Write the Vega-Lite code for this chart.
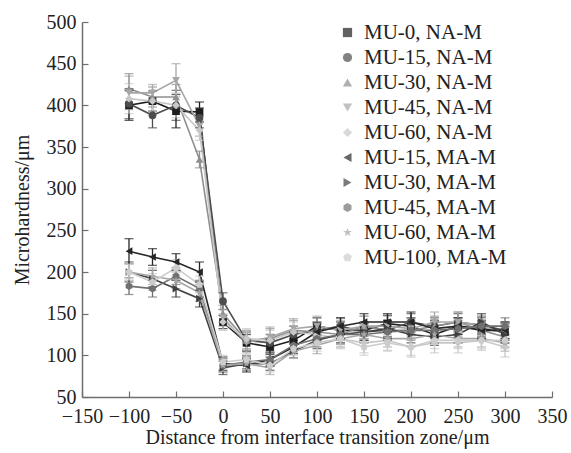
{
  "$schema": "https://vega.github.io/schema/vega-lite/v6.json",
  "width": 470,
  "height": 375,
  "autosize": {"type": "none"},
  "padding": {"left": 82, "top": 22, "right": 19, "bottom": 56},
  "background": "white",
  "config": {
    "view": {"stroke": null},
    "font": "Liberation Serif",
    "axis": {
      "grid": false,
      "domainColor": "#6e6e6e",
      "domainWidth": 1.5,
      "tickColor": "#6e6e6e",
      "tickWidth": 1.2,
      "tickSize": -6,
      "labelFont": "Liberation Serif",
      "labelFontSize": 20,
      "labelColor": "#222222",
      "labelOverlap": false,
      "labelBound": false,
      "labelFlush": false,
      "titleFont": "Liberation Serif",
      "titleFontSize": 20,
      "titleFontWeight": "normal",
      "titleColor": "#222222"
    },
    "legend": {
      "labelFont": "Liberation Serif",
      "labelFontSize": 21,
      "labelColor": "#222222"
    }
  },
  "data": {
    "values": [
      {"s":"MU-0, NA-M","x":-100,"y":400,"e":18},{"s":"MU-0, NA-M","x":-75,"y":405,"e":12},{"s":"MU-0, NA-M","x":-50,"y":393,"e":20},{"s":"MU-0, NA-M","x":-25,"y":392,"e":12},{"s":"MU-0, NA-M","x":0,"y":140,"e":8},{"s":"MU-0, NA-M","x":25,"y":115,"e":10},{"s":"MU-0, NA-M","x":50,"y":110,"e":9},{"s":"MU-0, NA-M","x":75,"y":118,"e":10},{"s":"MU-0, NA-M","x":100,"y":135,"e":10},{"s":"MU-0, NA-M","x":125,"y":130,"e":10},{"s":"MU-0, NA-M","x":150,"y":130,"e":10},{"s":"MU-0, NA-M","x":175,"y":138,"e":10},{"s":"MU-0, NA-M","x":200,"y":135,"e":10},{"s":"MU-0, NA-M","x":225,"y":125,"e":10},{"s":"MU-0, NA-M","x":250,"y":135,"e":10},{"s":"MU-0, NA-M","x":275,"y":132,"e":10},{"s":"MU-0, NA-M","x":300,"y":128,"e":10},
      {"s":"MU-15, NA-M","x":-100,"y":402,"e":18},{"s":"MU-15, NA-M","x":-75,"y":388,"e":15},{"s":"MU-15, NA-M","x":-50,"y":400,"e":18},{"s":"MU-15, NA-M","x":-25,"y":385,"e":12},{"s":"MU-15, NA-M","x":0,"y":165,"e":10},{"s":"MU-15, NA-M","x":25,"y":118,"e":10},{"s":"MU-15, NA-M","x":50,"y":115,"e":10},{"s":"MU-15, NA-M","x":75,"y":125,"e":10},{"s":"MU-15, NA-M","x":100,"y":130,"e":10},{"s":"MU-15, NA-M","x":125,"y":135,"e":10},{"s":"MU-15, NA-M","x":150,"y":128,"e":10},{"s":"MU-15, NA-M","x":175,"y":130,"e":10},{"s":"MU-15, NA-M","x":200,"y":140,"e":10},{"s":"MU-15, NA-M","x":225,"y":135,"e":10},{"s":"MU-15, NA-M","x":250,"y":140,"e":10},{"s":"MU-15, NA-M","x":275,"y":136,"e":10},{"s":"MU-15, NA-M","x":300,"y":130,"e":10},
      {"s":"MU-30, NA-M","x":-100,"y":420,"e":18},{"s":"MU-30, NA-M","x":-75,"y":410,"e":12},{"s":"MU-30, NA-M","x":-50,"y":410,"e":15},{"s":"MU-30, NA-M","x":-25,"y":335,"e":10},{"s":"MU-30, NA-M","x":0,"y":150,"e":10},{"s":"MU-30, NA-M","x":25,"y":118,"e":12},{"s":"MU-30, NA-M","x":50,"y":120,"e":12},{"s":"MU-30, NA-M","x":75,"y":130,"e":12},{"s":"MU-30, NA-M","x":100,"y":128,"e":12},{"s":"MU-30, NA-M","x":125,"y":125,"e":12},{"s":"MU-30, NA-M","x":150,"y":135,"e":12},{"s":"MU-30, NA-M","x":175,"y":130,"e":12},{"s":"MU-30, NA-M","x":200,"y":130,"e":12},{"s":"MU-30, NA-M","x":225,"y":135,"e":12},{"s":"MU-30, NA-M","x":250,"y":140,"e":12},{"s":"MU-30, NA-M","x":275,"y":130,"e":12},{"s":"MU-30, NA-M","x":300,"y":122,"e":12},
      {"s":"MU-45, NA-M","x":-100,"y":415,"e":20},{"s":"MU-45, NA-M","x":-75,"y":415,"e":10},{"s":"MU-45, NA-M","x":-50,"y":430,"e":20},{"s":"MU-45, NA-M","x":-25,"y":375,"e":12},{"s":"MU-45, NA-M","x":0,"y":145,"e":10},{"s":"MU-45, NA-M","x":25,"y":115,"e":12},{"s":"MU-45, NA-M","x":50,"y":122,"e":12},{"s":"MU-45, NA-M","x":75,"y":132,"e":12},{"s":"MU-45, NA-M","x":100,"y":135,"e":12},{"s":"MU-45, NA-M","x":125,"y":130,"e":12},{"s":"MU-45, NA-M","x":150,"y":135,"e":12},{"s":"MU-45, NA-M","x":175,"y":135,"e":12},{"s":"MU-45, NA-M","x":200,"y":132,"e":12},{"s":"MU-45, NA-M","x":225,"y":140,"e":12},{"s":"MU-45, NA-M","x":250,"y":140,"e":12},{"s":"MU-45, NA-M","x":275,"y":136,"e":12},{"s":"MU-45, NA-M","x":300,"y":126,"e":12},
      {"s":"MU-60, NA-M","x":-100,"y":408,"e":18},{"s":"MU-60, NA-M","x":-75,"y":405,"e":12},{"s":"MU-60, NA-M","x":-50,"y":400,"e":15},{"s":"MU-60, NA-M","x":-25,"y":370,"e":12},{"s":"MU-60, NA-M","x":0,"y":140,"e":10},{"s":"MU-60, NA-M","x":25,"y":120,"e":12},{"s":"MU-60, NA-M","x":50,"y":118,"e":12},{"s":"MU-60, NA-M","x":75,"y":128,"e":12},{"s":"MU-60, NA-M","x":100,"y":125,"e":12},{"s":"MU-60, NA-M","x":125,"y":120,"e":12},{"s":"MU-60, NA-M","x":150,"y":115,"e":12},{"s":"MU-60, NA-M","x":175,"y":118,"e":12},{"s":"MU-60, NA-M","x":200,"y":110,"e":12},{"s":"MU-60, NA-M","x":225,"y":115,"e":12},{"s":"MU-60, NA-M","x":250,"y":115,"e":12},{"s":"MU-60, NA-M","x":275,"y":118,"e":12},{"s":"MU-60, NA-M","x":300,"y":110,"e":12},
      {"s":"MU-15, MA-M","x":-100,"y":225,"e":15},{"s":"MU-15, MA-M","x":-75,"y":218,"e":10},{"s":"MU-15, MA-M","x":-50,"y":212,"e":10},{"s":"MU-15, MA-M","x":-25,"y":200,"e":12},{"s":"MU-15, MA-M","x":0,"y":90,"e":8},{"s":"MU-15, MA-M","x":25,"y":88,"e":8},{"s":"MU-15, MA-M","x":50,"y":95,"e":8},{"s":"MU-15, MA-M","x":75,"y":110,"e":8},{"s":"MU-15, MA-M","x":100,"y":128,"e":10},{"s":"MU-15, MA-M","x":125,"y":135,"e":10},{"s":"MU-15, MA-M","x":150,"y":140,"e":10},{"s":"MU-15, MA-M","x":175,"y":140,"e":10},{"s":"MU-15, MA-M","x":200,"y":140,"e":12},{"s":"MU-15, MA-M","x":225,"y":132,"e":10},{"s":"MU-15, MA-M","x":250,"y":135,"e":10},{"s":"MU-15, MA-M","x":275,"y":130,"e":10},{"s":"MU-15, MA-M","x":300,"y":130,"e":10},
      {"s":"MU-30, MA-M","x":-100,"y":200,"e":12},{"s":"MU-30, MA-M","x":-75,"y":192,"e":10},{"s":"MU-30, MA-M","x":-50,"y":180,"e":10},{"s":"MU-30, MA-M","x":-25,"y":168,"e":10},{"s":"MU-30, MA-M","x":0,"y":85,"e":8},{"s":"MU-30, MA-M","x":25,"y":90,"e":8},{"s":"MU-30, MA-M","x":50,"y":90,"e":8},{"s":"MU-30, MA-M","x":75,"y":105,"e":8},{"s":"MU-30, MA-M","x":100,"y":118,"e":10},{"s":"MU-30, MA-M","x":125,"y":125,"e":10},{"s":"MU-30, MA-M","x":150,"y":128,"e":10},{"s":"MU-30, MA-M","x":175,"y":132,"e":10},{"s":"MU-30, MA-M","x":200,"y":125,"e":10},{"s":"MU-30, MA-M","x":225,"y":122,"e":10},{"s":"MU-30, MA-M","x":250,"y":125,"e":10},{"s":"MU-30, MA-M","x":275,"y":140,"e":10},{"s":"MU-30, MA-M","x":300,"y":125,"e":10},
      {"s":"MU-45, MA-M","x":-100,"y":183,"e":10},{"s":"MU-45, MA-M","x":-75,"y":180,"e":10},{"s":"MU-45, MA-M","x":-50,"y":195,"e":10},{"s":"MU-45, MA-M","x":-25,"y":180,"e":10},{"s":"MU-45, MA-M","x":0,"y":88,"e":8},{"s":"MU-45, MA-M","x":25,"y":92,"e":8},{"s":"MU-45, MA-M","x":50,"y":95,"e":8},{"s":"MU-45, MA-M","x":75,"y":112,"e":8},{"s":"MU-45, MA-M","x":100,"y":120,"e":10},{"s":"MU-45, MA-M","x":125,"y":125,"e":10},{"s":"MU-45, MA-M","x":150,"y":125,"e":10},{"s":"MU-45, MA-M","x":175,"y":128,"e":10},{"s":"MU-45, MA-M","x":200,"y":130,"e":10},{"s":"MU-45, MA-M","x":225,"y":130,"e":10},{"s":"MU-45, MA-M","x":250,"y":132,"e":10},{"s":"MU-45, MA-M","x":275,"y":135,"e":10},{"s":"MU-45, MA-M","x":300,"y":135,"e":10},
      {"s":"MU-60, MA-M","x":-100,"y":200,"e":10},{"s":"MU-60, MA-M","x":-75,"y":195,"e":10},{"s":"MU-60, MA-M","x":-50,"y":190,"e":10},{"s":"MU-60, MA-M","x":-25,"y":175,"e":10},{"s":"MU-60, MA-M","x":0,"y":88,"e":8},{"s":"MU-60, MA-M","x":25,"y":90,"e":8},{"s":"MU-60, MA-M","x":50,"y":85,"e":8},{"s":"MU-60, MA-M","x":75,"y":105,"e":8},{"s":"MU-60, MA-M","x":100,"y":112,"e":10},{"s":"MU-60, MA-M","x":125,"y":120,"e":10},{"s":"MU-60, MA-M","x":150,"y":125,"e":10},{"s":"MU-60, MA-M","x":175,"y":120,"e":10},{"s":"MU-60, MA-M","x":200,"y":120,"e":10},{"s":"MU-60, MA-M","x":225,"y":125,"e":10},{"s":"MU-60, MA-M","x":250,"y":120,"e":10},{"s":"MU-60, MA-M","x":275,"y":120,"e":10},{"s":"MU-60, MA-M","x":300,"y":115,"e":10},
      {"s":"MU-100, MA-M","x":-100,"y":200,"e":10},{"s":"MU-100, MA-M","x":-75,"y":188,"e":10},{"s":"MU-100, MA-M","x":-50,"y":205,"e":10},{"s":"MU-100, MA-M","x":-25,"y":185,"e":10},{"s":"MU-100, MA-M","x":0,"y":92,"e":8},{"s":"MU-100, MA-M","x":25,"y":95,"e":8},{"s":"MU-100, MA-M","x":50,"y":88,"e":8},{"s":"MU-100, MA-M","x":75,"y":108,"e":8},{"s":"MU-100, MA-M","x":100,"y":115,"e":10},{"s":"MU-100, MA-M","x":125,"y":120,"e":10},{"s":"MU-100, MA-M","x":150,"y":110,"e":10},{"s":"MU-100, MA-M","x":175,"y":115,"e":10},{"s":"MU-100, MA-M","x":200,"y":110,"e":10},{"s":"MU-100, MA-M","x":225,"y":118,"e":10},{"s":"MU-100, MA-M","x":250,"y":118,"e":10},{"s":"MU-100, MA-M","x":275,"y":118,"e":10},{"s":"MU-100, MA-M","x":300,"y":118,"e":10}
    ]
  },
  "encoding": {
    "x": {
      "field": "x", "type": "quantitative",
      "scale": {"domain": [-150, 350], "nice": false, "zero": false},
      "axis": {"values": [-150,-100,-50,0,50,100,150,200,250,300,350], "title": "Distance from interface transition zone/μm", "labelPadding": 15, "titlePadding": 1}
    },
    "y": {
      "field": "y", "type": "quantitative",
      "scale": {"domain": [50, 500], "nice": false, "zero": false},
      "axis": {"values": [50,100,150,200,250,300,350,400,450,500], "title": "Microhardness/μm", "labelPadding": 12, "titlePadding": 14}
    },
    "color": {
      "field": "s", "type": "nominal",
      "scale": {
        "domain": ["MU-0, NA-M","MU-15, NA-M","MU-30, NA-M","MU-45, NA-M","MU-60, NA-M","MU-15, MA-M","MU-30, MA-M","MU-45, MA-M","MU-60, MA-M","MU-100, MA-M"],
        "range": ["#1e1e1e","#4d4d4d","#8f8f8f","#a6a6a6","#c8c8c8","#262626","#404040","#707070","#a6a6a6","#cccccc"]
      },
      "legend": {"orient": "none", "legendX": 255, "legendY": 0, "title": null, "symbolSize": 85, "rowPadding": 3, "labelOffset": 6, "symbolStrokeWidth": 0}
    }
  },
  "layer": [
    {"mark": {"type": "line", "strokeWidth": 1.6}},
    {
      "mark": {"type": "errorbar", "ticks": {"size": 9}, "thickness": 1.3},
      "encoding": {"yError": {"field": "e"}}
    },
    {
      "mark": {"type": "point", "filled": true, "opacity": 1, "size": 60},
      "encoding": {
        "shape": {
          "field": "s", "type": "nominal",
          "scale": {
            "domain": ["MU-0, NA-M","MU-15, NA-M","MU-30, NA-M","MU-45, NA-M","MU-60, NA-M","MU-15, MA-M","MU-30, MA-M","MU-45, MA-M","MU-60, MA-M","MU-100, MA-M"],
            "range": ["square","circle","triangle-up","triangle-down","diamond","triangle-left","triangle-right","M0,-1L0.866,-0.5L0.866,0.5L0,1L-0.866,0.5L-0.866,-0.5Z","M0,-1L0.235,-0.324L0.951,-0.309L0.38,0.124L0.588,0.809L0,0.4L-0.588,0.809L-0.38,0.124L-0.951,-0.309L-0.235,-0.324Z","M0,-1L0.951,-0.309L0.588,0.809L-0.588,0.809L-0.951,-0.309Z"]
          },
          "legend": {"orient": "none", "legendX": 255, "legendY": 0, "title": null, "symbolSize": 85, "rowPadding": 3, "labelOffset": 6, "symbolStrokeWidth": 0}
        }
      }
    }
  ]
}
